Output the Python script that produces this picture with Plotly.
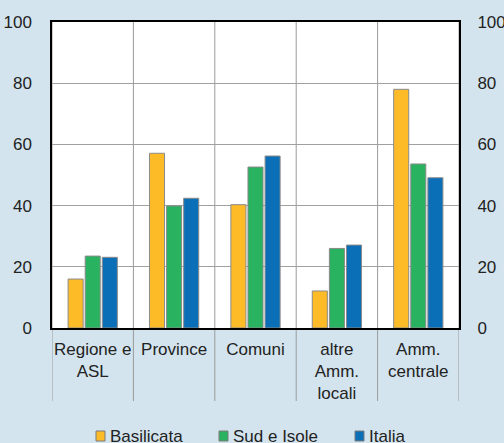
import plotly.graph_objects as go

categories = ["Regione e<br>ASL", "Province", "Comuni", "altre<br>Amm.<br>locali", "Amm.<br>centrale"]
basilicata = [16.0, 57.1, 40.3, 12.1, 78.0]
sud_isole = [23.5, 39.9, 52.6, 26.0, 53.6]
italia = [23.1, 42.4, 56.2, 27.1, 49.1]
y_ticks = [0, 20, 40, 60, 80, 100]
series_names = ["Basilicata", "Sud e Isole", "Italia"]

colors = {"Basilicata": "#FDBB27", "Sud e Isole": "#29B25F", "Italia": "#0B6FB8"}
bg = "#D3E4EE"
font = dict(family="Liberation Sans, Arial, sans-serif", size=17, color="#222222")

W, H = 504, 443
L, R, T, B = 52, 45, 22, 115
pw, ph = W - L - R, H - T - B

def px_x(p):
    return (p - L) / pw

def px_y(p):
    return (H - B - p) / ph

xs = list(range(len(categories)))
fig = go.Figure()
for name, vals in zip(series_names, [basilicata, sud_isole, italia]):
    fig.add_trace(go.Bar(
        x=xs, y=vals, name=name, showlegend=False,
        marker=dict(color=colors[name], line=dict(color="#8A8A8A", width=1)),
    ))

# invisible trace for right axis
fig.add_trace(go.Scatter(x=[xs[0]], y=[0], yaxis="y2", mode="markers",
                         marker=dict(opacity=0), showlegend=False, hoverinfo="skip"))

# category dividers (inside and below plot)
for b in [i - 0.5 for i in range(len(categories) + 1)]:
    fig.add_shape(type="line", xref="x", yref="paper", x0=b, x1=b, y0=px_y(401), y1=1,
                  line=dict(color="#9A9A9A", width=1), layer="below")

# manual legend
legend_sq_x = [96, 219, 355]
for name, sx in zip(series_names, legend_sq_x):
    fig.add_shape(type="rect", xref="paper", yref="paper",
                  x0=px_x(sx), x1=px_x(sx + 9), y0=px_y(441), y1=px_y(431),
                  fillcolor=colors[name], line=dict(color="#7A7A7A", width=1))
    fig.add_annotation(xref="paper", yref="paper", x=px_x(sx + 12), y=px_y(436),
                       xanchor="left", yanchor="middle", text=name, showarrow=False,
                       font=font)

fig.update_layout(
    width=W, height=H,
    margin=dict(l=L, r=R, t=T, b=B),
    paper_bgcolor=bg, plot_bgcolor="white",
    font=font,
    barmode="group", bargap=0.37, bargroupgap=0.12,
    showlegend=False,
    xaxis=dict(tickmode="array", tickvals=xs, ticktext=categories,
               range=[-0.5, len(categories) - 0.5], showgrid=False, ticks="",
               ticklabelstandoff=5, automargin=False,
               showline=True, linecolor="black", linewidth=1.5, mirror=True,
               zeroline=False, fixedrange=True),
    yaxis=dict(range=[0, 100], tickvals=y_ticks, showgrid=True, gridcolor="#A0A0A0",
               gridwidth=1, showline=True, linecolor="black", linewidth=1.5, mirror=True,
               ticks="outside", ticklen=15, tickcolor="rgba(0,0,0,0)", zeroline=False,
               automargin=False),
    yaxis2=dict(range=[0, 100], tickvals=y_ticks, overlaying="y", side="right",
                showgrid=False, showline=False, ticks="outside", ticklen=14,
                tickcolor="rgba(0,0,0,0)", zeroline=False, automargin=False),
)

fig.write_html("out.html")
